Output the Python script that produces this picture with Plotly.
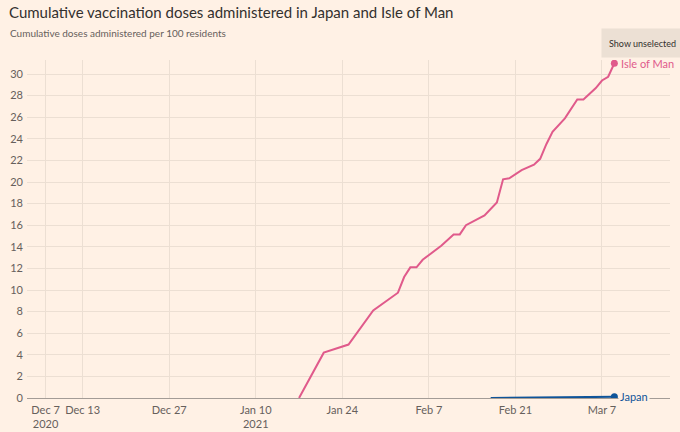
import plotly.graph_objects as go

# ---- data ----
iom_dates = ["2021-01-17", "2021-01-21", "2021-01-25", "2021-01-27", "2021-01-29",
             "2021-02-02", "2021-02-03", "2021-02-04", "2021-02-05", "2021-02-06",
             "2021-02-09", "2021-02-11", "2021-02-12", "2021-02-13", "2021-02-16",
             "2021-02-18", "2021-02-19", "2021-02-20", "2021-02-22", "2021-02-24",
             "2021-02-25", "2021-02-26", "2021-02-27", "2021-03-01", "2021-03-03",
             "2021-03-04", "2021-03-06", "2021-03-07", "2021-03-08", "2021-03-09"]
iom_values = [0.0, 4.2, 4.95, 6.55, 8.1,
              9.75, 11.2, 12.1, 12.1, 12.8,
              14.1, 15.15, 15.15, 16.0, 16.9,
              18.1, 20.25, 20.35, 21.1, 21.6,
              22.15, 23.5, 24.65, 25.9, 27.65,
              27.65, 28.7, 29.4, 29.75, 31.0]

japan_dates = ["2021-02-17", "2021-02-21", "2021-02-25", "2021-03-01", "2021-03-02",
               "2021-03-03", "2021-03-05", "2021-03-07", "2021-03-09"]
japan_values = [0.0, 0.01, 0.02, 0.03, 0.04, 0.08, 0.09, 0.1, 0.11]

tick_vals = ["2020-12-07", "2020-12-13", "2020-12-27", "2021-01-10",
             "2021-01-24", "2021-02-07", "2021-02-21", "2021-03-07"]
tick_text = ["Dec 7<br>2020", "Dec 13", "Dec 27", "Jan 10<br>2021",
             "Jan 24", "Feb 7", "Feb 21", "Mar 7"]
y_ticks = list(range(0, 31, 2))

BG = "#fff1e5"
PINK = "#e05a8b"
BLUE = "#0f5499"
FONT = "Lato"

fig = go.Figure()
fig.add_trace(go.Scatter(x=iom_dates, y=iom_values, mode="lines",
                         line=dict(color=PINK, width=2), name="Isle of Man",
                         hoverinfo="skip"))
fig.add_trace(go.Scatter(x=japan_dates, y=japan_values, mode="lines",
                         line=dict(color=BLUE, width=2), name="Japan",
                         hoverinfo="skip"))
fig.add_trace(go.Scatter(x=[iom_dates[-1]], y=[iom_values[-1]], mode="markers",
                         marker=dict(color=PINK, size=7), hoverinfo="skip"))
fig.add_trace(go.Scatter(x=[japan_dates[-1]], y=[japan_values[-1]], mode="markers",
                         marker=dict(color=BLUE, size=7), hoverinfo="skip"))

annotations = [
    dict(x=iom_dates[-1], y=iom_values[-1], xref="x", yref="y", text="Isle of Man",
         showarrow=False, xanchor="left", yanchor="middle", xshift=5,
         font=dict(family=FONT, size=11, color=PINK)),
    dict(x=japan_dates[-1], y=japan_values[-1], xref="x", yref="y", text="Japan",
         showarrow=False, xanchor="left", yanchor="middle", xshift=4,
         bgcolor=BG, borderpad=1,
         font=dict(family=FONT, size=11, color=BLUE)),
    dict(x=1, y=1, xref="paper", yref="paper", text="Show unselected",
         showarrow=False, xanchor="right", yanchor="bottom", xshift=14, yshift=2,
         width=81, height=28, bgcolor="#ece0d4", borderpad=0,
         font=dict(family=FONT, size=9, color="#33302e")),
    dict(x=0, y=1, xref="paper", yref="paper", text="Cumulative doses administered per 100 residents",
         showarrow=False, xanchor="left", yanchor="middle", xshift=-19, yshift=27,
         font=dict(family=FONT, size=10, color="#66605c")),
]

fig.update_layout(
    width=680, height=432,
    margin=dict(l=27, r=10, t=60, b=34),
    paper_bgcolor=BG, plot_bgcolor=BG,
    showlegend=False,
    title=dict(text="Cumulative vaccination doses administered in Japan and Isle of Man",
               x=0, xref="container", xanchor="left", y=1, yref="container", yanchor="top",
               pad=dict(l=9, t=7),
               font=dict(family=FONT, size=15, color="#33302e")),
    annotations=annotations,
    xaxis=dict(type="date", range=["2020-12-04", "2021-03-18"],
               tickvals=tick_vals, ticktext=tick_text, showgrid=True,
               gridcolor="#ecdfd3", gridwidth=1, zeroline=False, showline=False,
               ticks="", automargin=False, ticklabelstandoff=4,
               tickfont=dict(family=FONT, size=11, color="#66605c")),
    yaxis=dict(range=[0, 31.3], tickvals=y_ticks, showgrid=True,
               gridcolor="#ecdfd3", gridwidth=1, zeroline=True,
               zerolinecolor="#a39c96", zerolinewidth=1, showline=False,
               ticks="", ticklabelstandoff=3, automargin=False,
               tickfont=dict(family=FONT, size=11, color="#66605c")),
)

fig.write_html("out.html")
